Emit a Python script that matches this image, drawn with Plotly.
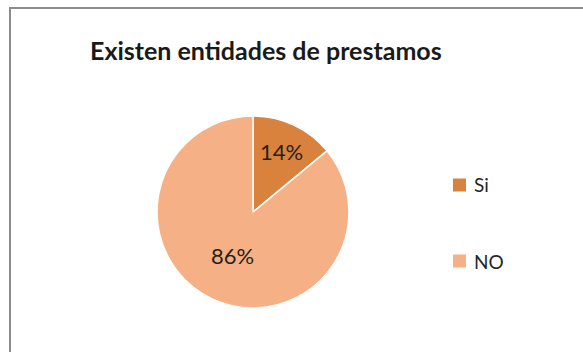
import plotly.graph_objects as go

labels = ["Si", "NO"]
values = [14, 86]
colors = ["#D8823E", "#F5B185"]
title_text = "Existen entidades de prestamos"

W, H = 583, 352
fig = go.Figure()
fig.add_trace(go.Pie(
    labels=labels, values=values, sort=False, direction="clockwise", rotation=0,
    marker=dict(colors=colors, line=dict(color="white", width=1.5)),
    textinfo="percent", textposition="inside", insidetextorientation="horizontal",
    textfont=dict(family="Lato", size=22, color="#2b1d14"),
    domain=dict(x=[156 / W, 350 / W], y=[1 - 308 / H, 1 - 116 / H]),
    showlegend=False, hoverinfo="label+percent",
))

shapes = [
    dict(type="line", xref="paper", yref="paper", x0=9 / W, x1=1, y0=1 - 8 / H, y1=1 - 8 / H,
         line=dict(color="#8c8c8c", width=2)),
    dict(type="line", xref="paper", yref="paper", x0=10 / W, x1=10 / W, y0=0, y1=1 - 8 / H,
         line=dict(color="#8c8c8c", width=2)),
]
annotations = [dict(text="<b>" + title_text + "</b>", x=266 / W, y=1 - 50 / H, xref="paper", yref="paper",
                    showarrow=False, font=dict(family="Lato", size=25, color="#1a1a1a"),
                    xanchor="center", yanchor="middle")]
leg_y = [185, 261]
for lab, col, yy in zip(labels, colors, leg_y):
    shapes.append(dict(type="rect", xref="paper", yref="paper",
                       x0=453 / W, x1=466 / W, y0=1 - (yy + 6.5) / H, y1=1 - (yy - 6.5) / H,
                       fillcolor=col, line=dict(width=0)))
    annotations.append(dict(text=lab, x=472 / W, y=1 - yy / H, xref="paper", yref="paper",
                            showarrow=False, xanchor="left", yanchor="middle",
                            font=dict(family="Lato", size=19, color="#262626")))

fig.update_layout(width=W, height=H, margin=dict(l=0, r=0, t=0, b=0),
                  paper_bgcolor="white", plot_bgcolor="white",
                  shapes=shapes, annotations=annotations)
fig.write_html("out.html")
